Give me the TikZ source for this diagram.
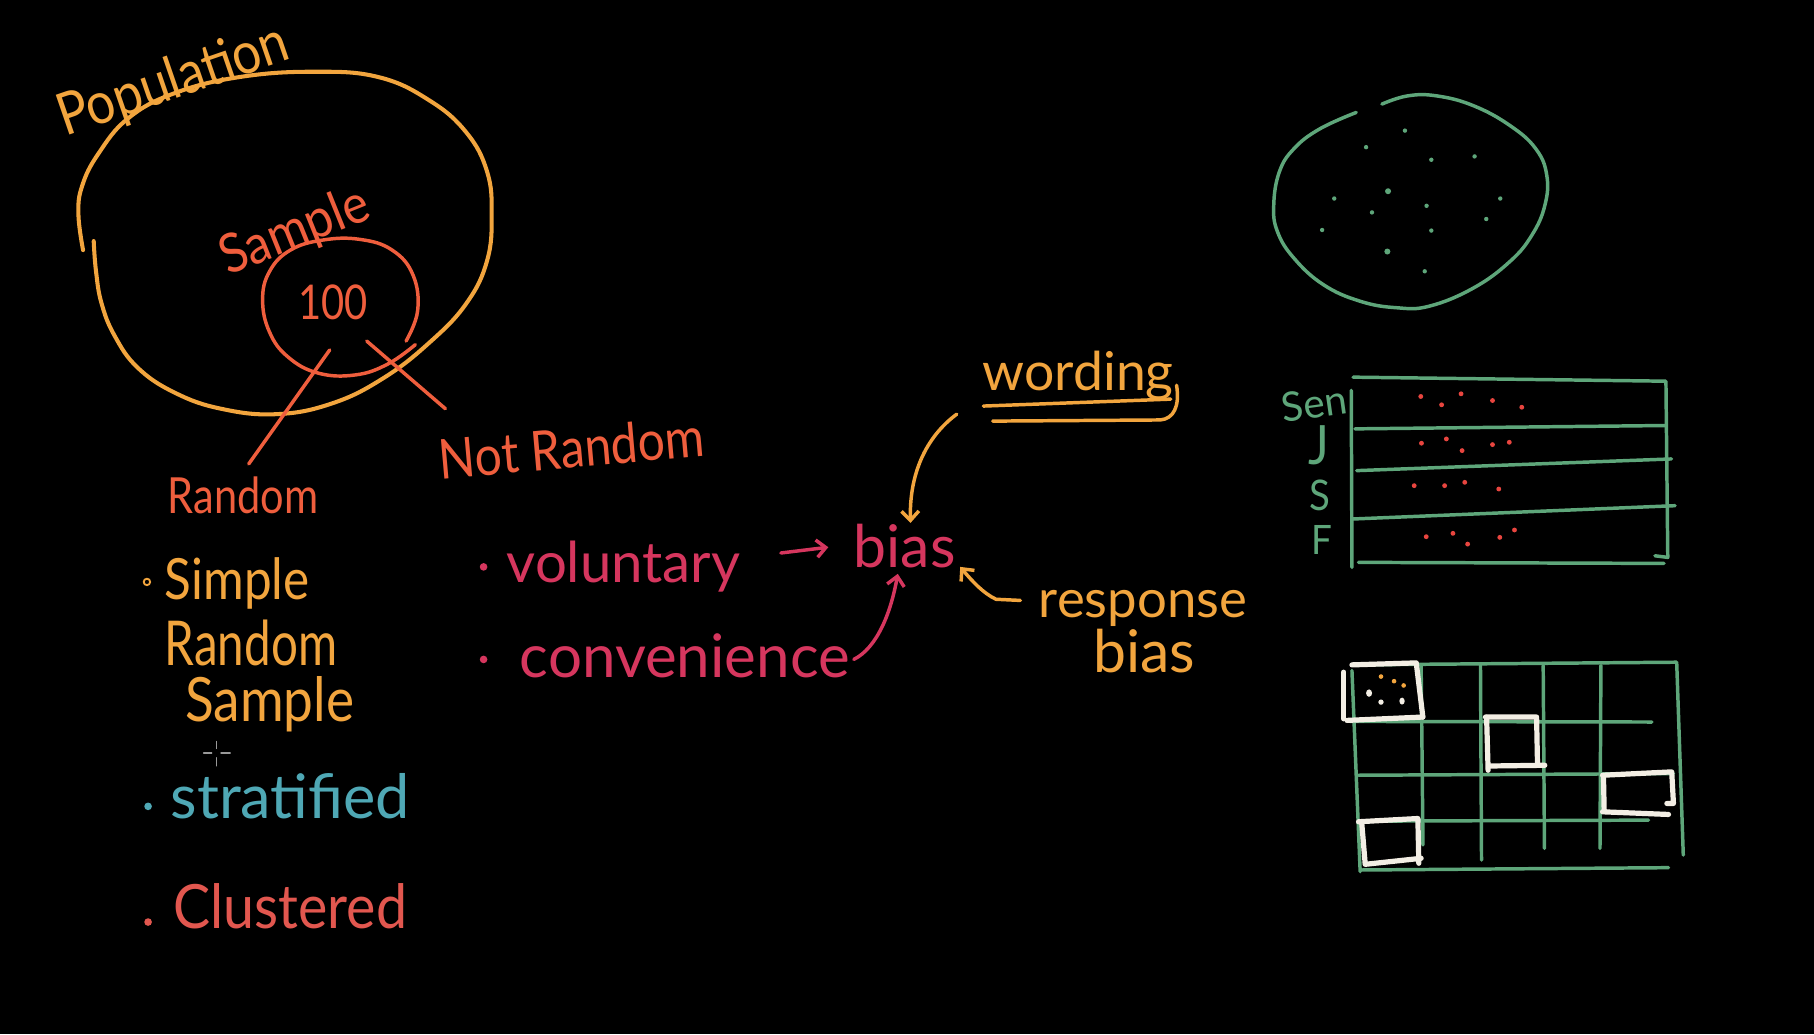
\documentclass[tikz,border=0pt]{standalone}
\usepackage{fontspec}
\setmainfont{Lato}
\usetikzlibrary{arrows.meta}
\definecolor{orng}{HTML}{F2A53E}
\definecolor{redo}{HTML}{EF5E3D}
\definecolor{crim}{HTML}{D6365E}
\definecolor{cteal}{HTML}{4FA8B5}
\definecolor{clus}{HTML}{E2574F}
\definecolor{cgreen}{HTML}{5EA67A}
\definecolor{cwhite}{HTML}{F3EEE4}
\definecolor{reddot}{HTML}{E8453F}
\newcommand\fitw[3][1]{\scalebox{1}[#1]{\resizebox{#2pt}{!}{#3}}}
\begin{document}
\begin{tikzpicture}[x=1pt,y=-1pt,line cap=round,line join=round,
  txt/.style={inner sep=0pt,outer sep=0pt},
  hand/.style={line width=3pt},
  arr/.style={-{Straight Barb[length=8pt,width=15pt]},line width=3pt},
  gline/.style={cgreen,line width=3pt},
  wbox/.style={cwhite,line width=4.5pt}]
\fill[black] (0,0) rectangle (1568,894);
\useasboundingbox (0,0) rectangle (1568,894);

% ---------- population / sample ----------
\draw[orng,line width=3.5pt] plot[smooth,tension=0.7] coordinates {(81,208.4) (83,234.6) (87.8,262.3) (99,290.1) (119,317.8) (151,339.4) (191,353.3) (239,358) (287,348.7) (331,327.1) (371,296.3) (403,262.4) (421,225.4) (425,185.3) (421,148.3) (403,114.4) (371,86.7) (327,66.6) (271,62) (207,66.6) (151,80.5) (111,102.1) (85,132.9) (71,160.7) (67.8,185.3) (71.8,216.2)};
\draw[redo,hand] plot[smooth,tension=0.7] coordinates {(351,294.8) (361,268.6) (357,237.7) (339,216.2) (311,206.9) (279,207.5) (251,216.2) (233,234.6) (227,259.3) (233,287.1) (249,308.6) (275,322.5) (307,324.1) (335,314.8) (359,297.9)};

\node[txt,orng,rotate=19] (pop) at (150,71) {\fitw[1.15]{208}{Population}};
\node[txt,redo,rotate=22] (smp) at (255,201) {\fitw[1.1]{135}{Sample}};
\node[txt,redo] (hund) at (288,261) {\fitw[1.2]{60}{100}};
\node[txt,redo] (rnd) at (210,428) {\fitw[1.2]{130}{Random}};
\node[txt,redo,rotate=5] (nrnd) at (494,387) {\fitw[1.15]{230}{Not Random}};

\coordinate (sc1) at (285,302.5);
\coordinate (rndtop) at (215,401);
\coordinate (sc2) at (317,294.8);
\coordinate (nrndtop) at (385,353.3);
\draw[redo,hand] (sc1) -- (rndtop);
\draw[redo,hand] (sc2) -- (nrndtop);

% ---------- random list ----------
\draw[orng,line width=1.6pt] (127,503) circle (2.8pt);
\node[txt,orng] (srs1) at (205,504) {\fitw[1.15]{125}{Simple}};
\node[txt,orng] (srs2) at (217,556) {\fitw[1.3]{149}{Random}};
\node[txt,orng] (srs3) at (233,609) {\fitw[1.15]{146}{Sample}};
\fill[cteal] (128,697) circle (3.3pt);
\node[txt,cteal] (strat) at (251,688) {\fitw{207}{stratified}};
\fill[clus] (128,797) circle (3.3pt);
\node[txt,clus] (clus) at (251,783) {\fitw[1.1]{202}{Clustered}};

% cursor
\draw[gray!80,line width=1.2pt] (187,641) -- (187,647) (187,655) -- (187,662) (176,651) -- (183,651) (191,651) -- (199,651);

% ---------- non random / bias ----------
\fill[crim] (418,490) circle (3.3pt);
\node[txt,crim] (vol) at (539,490) {\fitw{202}{voluntary}};
\fill[crim] (418,570) circle (3.3pt);
\node[txt,crim] (conv) at (592,567) {\fitw{285}{convenience}};
\node[txt,crim] (bias) at (782,472) {\fitw{88}{bias}};
\node[txt,orng] (word) at (932,325) {\fitw{165}{wording}};
\node[txt,orng] (resp) at (988,526) {\fitw{180}{response}};
\node[txt,orng] (rbias) at (989,563) {\fitw{88}{bias}};

\draw[orng,hand] (850,351) -- (1012,345);
\draw[orng,hand] (858,364) -- (1003,363) .. controls (1014,362) and (1020,352) .. (1017,333);

\coordinate (va1) at (675,478);
\coordinate (va2) at (716,473);
\draw[arr,crim] (va1) -- (va2);
\coordinate (ca1) at (738,570);
\coordinate (ca2) at (776,496);
\draw[arr,crim] (ca1) .. controls (758,560) and (770,530) .. (ca2);
\coordinate (wa1) at (827,358);
\coordinate (wa2) at (787,452);
\draw[arr,orng] (wa1) .. controls (800,378) and (786,410) .. (wa2);
\coordinate (ra1) at (882,519);
\coordinate (ra2) at (830,490);
\draw[arr,orng] (ra1) -- (861,518) .. controls (850,513) and (840,502) .. (ra2);

% ---------- green population circle ----------
\draw[gline] plot[smooth,tension=0.7] coordinates {(1194.5,90) (1216.6,82.9) (1242,82.9) (1273.7,91.4) (1305.3,108.6) (1327.5,128.6) (1337,151.5) (1335.4,177.3) (1324.3,203) (1305.3,225.9) (1273.7,248.9) (1235.6,264.6) (1207.1,266) (1175.4,260.3) (1143.8,246) (1118.4,223.1) (1104.2,200.2) (1101,177.3) (1105.8,148.7) (1118.4,128.6) (1140.6,111.5) (1172.3,97.2)};
\foreach \p in {(1214.4,112.9),(1180.8,127.2),(1237.2,138.1),(1274.6,135.2),(1153.3,171.6),(1233.1,177.9),(1185.9,183.6),(1296.8,171.6),(1284.7,189.3),(1142.8,198.8),(1237.2,199.3),(1231.5,234.5)}
  \fill[cgreen] \p circle (1.9pt);
\fill[cgreen] (1199.8,165.3) circle (2.6pt);
\fill[cgreen] (1199.2,217.4) circle (2.6pt);

% ---------- stratified table ----------
\draw[gline] (1169.6,326) -- (1440,329.5) -- (1441.6,481.8) -- (1430.5,480.4);
\draw[gline] (1168,337.5) -- (1168.6,490.4);
\draw[gline] (1171.2,370.7) -- (1440,367.8);
\draw[gline] (1172.7,406.8) -- (1444.8,396.7);
\draw[gline] (1169.6,448.6) -- (1447.9,437.1);
\draw[gline] (1174.3,486.1) -- (1438.4,487);
\node[txt,cgreen,rotate=8] (sen) at (1136,349) {\fitw{57}{Sen}};
\node[txt,cgreen] (lj) at (1140,385) {\fitw[1.1]{18}{J}};
\node[txt,cgreen] (ls) at (1141,428) {\fitw[1.1]{18}{S}};
\node[txt,cgreen] (lf) at (1143,467) {\fitw[1.1]{18}{F}};
\foreach \p in {(1228.1,342.7),(1246.1,349.9),(1262.9,340.4),(1290.1,346.2),(1315.4,352),
  (1228.7,383.1),(1250.2,379.4),(1263.8,389.5),(1290.1,384.3),(1304.6,382.3),
  (1222.4,419.8),(1248.7,419.8),(1266.1,416.9),(1295.5,422.7),
  (1232.8,463.9),(1255.9,461),(1268.6,470.3),(1296.4,464.5),(1309.1,458.1)}
  \fill[reddot] \p circle (2.1pt);

% ---------- cluster grid ----------
\draw[gline] (1168.6,574.7) -- (1449.3,572.4) -- (1455,739.1);
\draw[gline] (1177.1,752) -- (1442.2,750);
\draw[gline] (1168.6,579.6) -- (1175.7,753.4);
\draw[gline] (1228.4,575.3) -- (1230,730.4);
\draw[gline] (1279.7,575.3) -- (1280.6,743.4);
\draw[gline] (1333.9,575.3) -- (1335,733.3);
\draw[gline] (1383.8,575.3) -- (1383,733.3);
\draw[gline] (1167,623.6) -- (1427.9,624.1);
\draw[gline] (1174.3,670.1) -- (1446.5,668.7);
\draw[gline] (1175,709.8) -- (1425,708.9);

\draw[wbox] (1161.5,581) -- (1161.5,621.3);
\draw[wbox] (1168.6,574.7) -- (1224.2,573) -- (1229.9,619.8);
\draw[wbox] (1164.3,622.7) -- (1229.9,619.8);
\fill[orng] (1193.7,584.8) circle (2pt) (1205,588.8) circle (2pt) (1213.3,592.5) circle (2pt);
\fill[cwhite] (1183.4,599.1) ellipse (2.6pt and 3.2pt) (1193.7,606.9) circle (2.3pt) (1211.9,606) ellipse (2.3pt and 3pt);

\draw[wbox] (1284,619.8) -- (1328.2,619.8) -- (1329,661.5);
\draw[wbox] (1285,620) -- (1286.3,665.8);
\draw[wbox] (1288.3,662.1) -- (1335.3,661.5);

\draw[wbox] (1385.2,670.1) -- (1445,667.2) -- (1446.5,694.5) -- (1440.8,694.5);
\draw[wbox] (1386,670.5) -- (1386.6,700.3);
\draw[wbox] (1385.2,701.7) -- (1442.2,704);

\draw[wbox] (1174.3,710.3) -- (1225.6,707.5) -- (1226.4,746.2);
\draw[wbox] (1177.1,711.8) -- (1180,746.2);
\draw[wbox] (1180,747.1) -- (1228.4,741.9);
\end{tikzpicture}
\end{document}
